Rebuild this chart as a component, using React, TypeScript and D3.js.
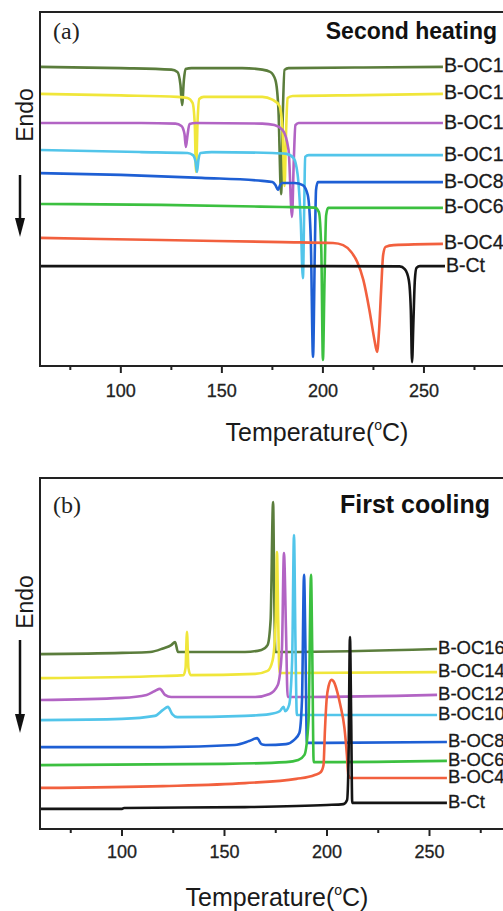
import React, { useEffect, useRef } from "react";
import * as d3 from "d3";

// DSC traces, [temperature °C, heat flow a.u.]
const SAMPLES = ["B-OC16", "B-OC14", "B-OC12", "B-OC10", "B-OC8", "B-OC6", "B-OC4", "B-Ct"];
const COLORS = ["#5b7d3c", "#f0e63a", "#b264c4", "#52c5ea", "#1e5fd4", "#3cc040", "#f2603e", "#151515"];
const MAJOR_TICKS = [100, 150, 200, 250, 300];
const MINOR_TICKS = [75, 125, 175, 225, 275];

// (a) second heating
const heatOC16 = [[60,99.7],[100,99.3],[125,98.8],[128,98.0],[129.5,93.7],[130.3,87.0],[131.2,95.3],[132,99.0],[135,99.3],[160,99.3],[170,98.8],[174,98.0],[176.5,95.3],[178,85.3],[179.3,57.3],[180.2,85.3],[181,98.7],[183,99.3],[220,99.5],[259.4,99.7]];
const heatOC14 = [[60,90.7],[100,90.2],[128,89.7],[133,89.3],[135.5,87.7],[136.6,80.3],[137.2,64.7],[138,82.0],[138.8,89.0],[141,89.7],[170,89.7],[175,88.8],[178.5,86.7],[180,78.7],[181,60.0],[181.8,78.7],[182.5,89.3],[185,90.0],[220,90.3],[259.4,90.7]];
const heatOC12 = [[60,81.0],[110,81.0],[127,80.8],[130,80.0],[131.5,77.3],[132.2,73.0],[133,77.0],[134,80.7],[137,81.0],[170,80.8],[176,80.3],[180,78.7],[183,72.0],[184.7,49.7],[185.6,68.7],[186.4,80.3],[188,81.0],[259.4,81.0]];
const heatOC10 = [[60,72.0],[110,71.3],[133,71.0],[135.7,70.3],[137,68.0],[137.7,64.7],[138.4,68.7],[139.5,71.0],[145,71.3],[175,71.0],[182,70.7],[185.5,69.3],[187.5,63.7],[189,48.7],[190.1,29.3],[190.8,55.3],[191.2,69.7],[193,70.3],[259.4,70.3]];
const heatOC8 = [[60,64.3],[100,63.7],[140,62.7],[170,61.7],[175,61.3],[176.5,60.3],[177.8,58.7],[178.8,60.3],[180,61.0],[186,61.0],[190,60.3],[192.5,57.0],[194,42.0],[195.1,3.0],[196,38.7],[196.6,58.7],[197.5,61.3],[259.4,61.3]];
const heatOC6 = [[60,54.0],[120,53.7],[180,53.0],[196,52.8],[198,51.3],[199.2,38.7],[200,2.0],[200.8,28.7],[201.6,50.3],[202.6,52.7],[259.4,52.7]];
const heatOC4 = [[60,42.7],[120,42.0],[180,41.3],[205,41.0],[210,40.3],[214,38.0],[217,34.7],[220,28.7],[223,18.7],[225.5,8.7],[226.8,4.7],[227.8,12.0],[228.8,25.3],[229.8,37.0],[231,39.7],[235,40.3],[259.4,40.7]];
const heatCt = [[60,33.3],[200,33.3],[238,33.2],[240.5,32.3],[242.5,28.7],[243.5,18.7],[244.1,1.3],[244.8,15.3],[245.5,28.7],[246.3,32.7],[248,33.3],[260.4,33.3]];

// (b) first cooling
const coolOC16 = [[60,58.3],[100,58.7],[113.7,59.0],[120,60.2],[124,61.3],[125.9,62.3],[127.3,59.0],[160,59.0],[168,59.7],[171,61.3],[172.5,69.7],[173.7,109.0],[174.3,76.3],[174.8,59.0],[180,59.0],[253.7,60.0]];
const coolOC14 = [[60,50.3],[120,51.0],[130,51.3],[131,53.7],[131.7,65.7],[132.4,53.7],[133.5,51.3],[165,51.7],[171,52.7],[173.5,56.3],[175,69.7],[175.6,92.3],[176.2,69.7],[176.8,52.0],[185,52.0],[253.7,52.3]];
const coolOC12 = [[60,43.0],[100,43.7],[112,44.7],[116,46.0],[118.5,46.7],[121,44.7],[124,44.0],[165,44.0],[172,45.0],[176,48.0],[178,59.7],[179,92.0],[180,66.3],[180.8,44.0],[190,44.0],[253.7,44.7]];
const coolOC10 = [[60,36.3],[100,36.7],[116,37.7],[120,39.7],[122.4,40.7],[124.5,38.3],[127,37.3],[160,37.7],[172,38.3],[177,39.3],[178.8,40.7],[179.6,39.3],[181.5,41.3],[183,56.3],[183.9,98.0],[184.6,63.0],[185.3,38.0],[195,38.0],[253.7,38.0]];
const coolOC8 = [[60,27.3],[120,27.3],[155,28.0],[162,29.3],[165.9,30.3],[168,28.3],[170,28.0],[180,28.3],[184,29.7],[186.5,32.0],[187.8,43.0],[188.8,84.7],[189.5,59.7],[190.2,28.7],[200,28.7],[258.5,29.0]];
const coolOC6 = [[60,21.3],[150,21.7],[180,22.3],[186,23.0],[189,24.7],[191,36.3],[192.2,84.7],[192.8,59.7],[193.5,22.3],[200,22.3],[258.5,22.7]];
const coolOC4 = [[60,13.7],[120,14.3],[160,15.3],[185,16.7],[194,18.0],[197,19.0],[198.3,21.3],[199,33.0],[199.8,43.0],[200.8,47.7],[202.2,49.7],[203.6,48.7],[205,45.7],[206.5,41.3],[208.5,33.7],[209.7,24.7],[210.4,18.0],[211.5,17.0],[258.5,17.0]];
const coolCt = [[60,6.7],[100,6.7],[101,7.0],[160,7.3],[200,8.0],[208,8.3],[209.8,9.7],[210.5,23.0],[211.2,64.0],[211.8,36.3],[212.3,8.7],[220,8.7],[258.5,8.7]];

const HEATING = [heatOC16, heatOC14, heatOC12, heatOC10, heatOC8, heatOC6, heatOC4, heatCt];
const COOLING = [coolOC16, coolOC14, coolOC12, coolOC10, coolOC8, coolOC6, coolOC4, coolCt];

const SANS = "'Liberation Sans', Arial, Helvetica, sans-serif";
const SERIF = "'Liberation Serif', 'Times New Roman', serif";

type Panel = {
  curves: number[][][];
  x: d3.ScaleLinear<number, number>;
  y: d3.ScaleLinear<number, number>;
  tag: string;
  title: string;
  titleRight: number;
  titleSize: number;
  titleBase: number;
  labelSize: number;
  tickBase: number;
  axisTitleX: number;
  axisTitleBase: number;
  endoMid: number;
  arrowTop: number;
  arrowBottom: number;
};

function drawPanel(svg: d3.Selection<SVGSVGElement, unknown, null, undefined>, p: Panel) {
  const [x0, x1] = p.x.range();
  const [yb, yt] = p.y.range();
  const g = svg.append("g");
  const ink = "#222";

  // curves
  const line = d3.line<number[]>()
    .x(d => p.x(d[0]))
    .y(d => p.y(d[1]))
    .curve(d3.curveMonotoneX);

  p.curves.forEach((c, i) => {
    g.append("path")
      .attr("d", line(c))
      .attr("fill", "none")
      .attr("stroke", COLORS[i])
      .attr("stroke-width", 2.6)
      .attr("stroke-linejoin", "round");
  });

  // labels at line ends
  p.curves.forEach((c, i) => {
    const last = c[c.length - 1];
    g.append("text")
      .attr("x", p.x(last[0]) + 1)
      .attr("y", p.y(last[1]) - 1.5)
      .attr("dominant-baseline", "central")
      .attr("font-family", SANS)
      .attr("font-size", p.labelSize)
      .attr("fill", "#1a1a1a")
      .attr("stroke", "#1a1a1a").attr("stroke-width", 0.3)
      .text(SAMPLES[i]);
  });

  // frame
  g.append("rect")
    .attr("x", x0).attr("y", yt)
    .attr("width", x1 - x0).attr("height", yb - yt)
    .attr("fill", "none").attr("stroke", ink).attr("stroke-width", 2);

  // ticks
  g.selectAll(".maj").data(MAJOR_TICKS).join("line")
    .attr("x1", d => p.x(d)).attr("x2", d => p.x(d))
    .attr("y1", yb).attr("y2", yb + 7)
    .attr("stroke", ink).attr("stroke-width", 2);
  g.selectAll(".min").data(MINOR_TICKS).join("line")
    .attr("x1", d => p.x(d)).attr("x2", d => p.x(d))
    .attr("y1", yb).attr("y2", yb + 4)
    .attr("stroke", ink).attr("stroke-width", 2);
  g.selectAll(".tl").data(MAJOR_TICKS).join("text")
    .attr("x", d => p.x(d)).attr("y", p.tickBase)
    .attr("text-anchor", "middle")
    .attr("font-family", SANS).attr("font-size", 18).attr("fill", "#222")
    .attr("stroke", "#222").attr("stroke-width", 0.3)
    .text(d => d);

  // axis title
  const at = g.append("text")
    .attr("x", p.axisTitleX).attr("y", p.axisTitleBase)
    .attr("text-anchor", "middle")
    .attr("font-family", SANS).attr("font-size", 25).attr("fill", "#1a1a1a");
  at.append("tspan").text("Temperature(");
  at.append("tspan").attr("font-size", 14).attr("dy", -11).text("o");
  at.append("tspan").attr("dy", 11).text("C)");

  // panel tag + title
  g.append("text")
    .attr("x", 53).attr("y", p.titleBase)
    .attr("font-family", SERIF).attr("font-size", 24).attr("fill", "#222")
    .text(p.tag);
  g.append("text")
    .attr("x", p.titleRight).attr("y", p.titleBase)
    .attr("text-anchor", "end")
    .attr("font-family", SANS).attr("font-weight", "bold")
    .attr("font-size", p.titleSize).attr("fill", "#111")
    .text(p.title);

  // Endo + arrow
  g.append("text")
    .attr("transform", `translate(33,${p.endoMid}) rotate(-90)`)
    .attr("text-anchor", "middle")
    .attr("font-family", SANS).attr("font-size", 23).attr("fill", "#1a1a1a")
    .text("Endo");
  g.append("line")
    .attr("x1", 20).attr("x2", 20)
    .attr("y1", p.arrowTop).attr("y2", p.arrowBottom - 16)
    .attr("stroke", "#111").attr("stroke-width", 2.5);
  g.append("path")
    .attr("d", `M15,${p.arrowBottom - 19}L25,${p.arrowBottom - 19}L20,${p.arrowBottom}Z`)
    .attr("fill", "#111");
}

function render(el: SVGSVGElement) {
  const svg = d3.select(el);
  svg.selectAll("*").remove();

  drawPanel(svg, {
    curves: HEATING,
    x: d3.scaleLinear().domain([60, 300]).range([40, 525]),
    y: d3.scaleLinear().domain([0, 118]).range([366, 12]),
    tag: "(a)",
    title: "Second heating",
    titleRight: 497,
    titleSize: 23,
    titleBase: 39,
    labelSize: 19.5,
    tickBase: 397,
    axisTitleX: 317,
    axisTitleBase: 441,
    endoMid: 115,
    arrowTop: 175,
    arrowBottom: 237,
  });

  drawPanel(svg, {
    curves: COOLING,
    x: d3.scaleLinear().domain([60, 300]).range([40, 532]),
    y: d3.scaleLinear().domain([0, 117]).range([829, 478]),
    tag: "(b)",
    title: "First cooling",
    titleRight: 490,
    titleSize: 25,
    titleBase: 513,
    labelSize: 18.5,
    tickBase: 858,
    axisTitleX: 277,
    axisTitleBase: 906,
    endoMid: 602,
    arrowTop: 640,
    arrowBottom: 733,
  });
}

export default function App() {
  const ref = useRef<SVGSVGElement>(null);
  useEffect(() => {
    if (ref.current) render(ref.current);
  }, []);
  return (
    <svg
      ref={ref}
      width={503}
      height={911}
      style={{ position: "absolute", left: 0, top: 0, background: "#fff", overflow: "hidden" }}
    />
  );
}
